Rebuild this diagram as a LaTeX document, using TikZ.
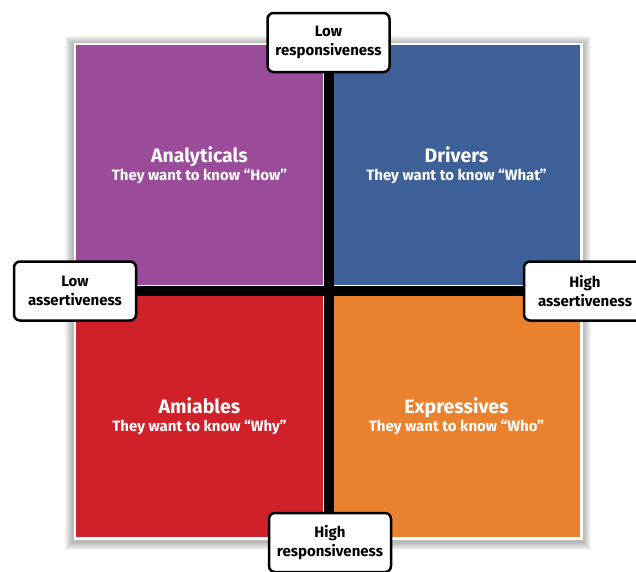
\documentclass[tikz,border=0pt]{standalone}
\usepackage{fontspec}
\setmainfont{Fira Sans}

\definecolor{analyticalpurple}{RGB}{154,75,154}
\definecolor{driverblue}{RGB}{61,96,152}
\definecolor{amiablered}{RGB}{208,32,41}
\definecolor{expressiveorange}{RGB}{234,129,46}

\tikzstyle{quadrant}=[minimum width=247pt, minimum height=240pt, inner sep=0, text=white, align=center, font=\bfseries\fontsize{15}{18}\selectfont]
\tikzstyle{axis label}=[draw, line width=2.5pt, rounded corners=6pt, fill=white, minimum width=122pt, minimum height=59pt, inner sep=0, align=center, font=\bfseries\fontsize{15}{19}\selectfont]
\tikzstyle{axis}=[line width=10pt]
\tikzstyle{frame shadow}=[fill=black, opacity=0.04]

\newcommand{\quadrantlabel}[2]{{\fontsize{19.5}{18}\selectfont #1}\\#2}

\begin{document}
\begin{tikzpicture}[x=1pt, y=-1pt]
  \useasboundingbox (0,0) rectangle (636,571);

  % soft shadow and white frame
  \foreach \s in {1,...,8}
    \fill[frame shadow] (73-\s, 42-\s+2) rectangle (583+\s, 540+\s+2);
  \fill[white, draw=black!25, thin] (73,42) rectangle (583,540);

  \node[quadrant, fill=analyticalpurple] (analyticals) at (199.5,165)
    {\quadrantlabel{Analyticals}{They want to know “How”}};
  \node[quadrant, fill=driverblue] (drivers) at (456.5,165)
    {\quadrantlabel{Drivers}{They want to know “What”}};
  \node[quadrant, fill=amiablered, minimum height=242pt] (amiables) at (199.5,416)
    {\quadrantlabel{Amiables}{They want to know “Why”}};
  \node[quadrant, fill=expressiveorange, minimum height=242pt] (expressives) at (456.5,416)
    {\quadrantlabel{Expressives}{They want to know “Who”}};

  \node[axis label] (low_resp) at (328.5,42.5) {Low\\responsiveness};
  \node[axis label] (high_resp) at (330,542.5) {High\\responsiveness};
  \node[axis label] (low_assert) at (75,291) {Low\\assertiveness};
  \node[axis label] (high_assert) at (585,291) {High\\assertiveness};

  \draw[axis] (low_resp.south) -- (low_resp.south |- high_resp.north);
  \draw[axis] (low_assert.east) -- (high_assert.west);
\end{tikzpicture}
\end{document}
